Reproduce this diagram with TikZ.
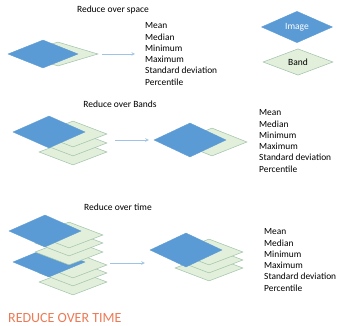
\documentclass[tikz,border=0pt]{standalone}
\usepackage{fontspec}
\setmainfont{Carlito}
\usetikzlibrary{shapes.geometric}
\definecolor{imgblue}{HTML}{5B9BD5}
\definecolor{bandgreen}{HTML}{E2EFDA}
\definecolor{bandedge}{HTML}{9EC2AA}
\definecolor{flowblue}{HTML}{9DC3E6}
\definecolor{titleorange}{HTML}{EE7A55}
\tikzset{
  image/.style={diamond, fill=imgblue, draw=imgblue, line width=0.4pt, inner sep=0pt, minimum width=72pt, minimum height=32pt},
  band/.style={diamond, fill=bandgreen, draw=bandedge, line width=0.5pt, inner sep=0pt, minimum width=68pt, minimum height=26pt},
  heading/.style={font=\fontsize{9.5}{11}\selectfont, inner sep=0pt},
  stats/.style={font=\fontsize{9.4}{11.3}\selectfont, align=left, anchor=west, inner sep=0pt},
  flow/.style={->, >=stealth, draw=flowblue, line width=0.6pt}
}
\begin{document}
\begin{tikzpicture}[x=1pt, y=-1pt]
        \useasboundingbox (0,0) rectangle (338,326);

        % Reduce over space
        \node[heading] (tspace) at (113,10) {Reduce over space};
        \node[band, minimum width=80pt, minimum height=24pt] (bandS) at (58,54) {};
        \node[image, minimum width=70pt, minimum height=28pt] (imgS) at (43,54) {};
        \node[stats] (statsS) at (145,54) {Mean\\Median\\Minimum\\Maximum\\Standard deviation\\Percentile};
        \draw[flow, shorten <=4pt, shorten >=10pt] (bandS.east) -- (statsS.west);

        % Legend
        \node[image, minimum width=71pt, minimum height=28pt, text=white, font=\fontsize{9.5}{11}\selectfont] (legimg) at (297,27) {Image};
        \node[band, minimum width=70pt, font=\fontsize{9.5}{11}\selectfont] (legband) at (298,62) {Band};

        % Reduce over Bands
        \node[heading] (tbands) at (120,104) {Reduce over Bands};
        \node[band] (bandB3) at (73,152) {};
        \node[band] (bandB2) at (73,143) {};
        \node[band] (bandB1) at (73,134) {};
        \node[image] (imgB) at (49,132) {};
        \node[band, minimum width=70pt, minimum height=28pt] (resbandB) at (212,142) {};
        \node[image, minimum height=34pt] (resimgB) at (190,140) {};
        \node[stats] (statsB) at (259,141) {Mean\\Median\\Minimum\\Maximum\\Standard deviation\\Percentile};
        \draw[flow] ([xshift=8pt]bandB2.east |- resimgB.west) -- ([xshift=-5pt]resimgB.west);

        % Reduce over time
        \node[heading] (ttime) at (118,207) {Reduce over time};
        \node[band] (bandT6) at (73,282) {};
        \node[band] (bandT5) at (73,273) {};
        \node[band] (bandT4) at (73,265) {};
        \node[image, minimum height=30pt] (imgT2) at (49,262) {};
        \node[band] (bandT3) at (69,252) {};
        \node[band] (bandT2) at (69,243) {};
        \node[band] (bandT1) at (69,235) {};
        \node[image] (imgT1) at (45,231) {};
        \node[band] (resbandT3) at (209,268) {};
        \node[band] (resbandT2) at (209,260) {};
        \node[band] (resbandT1) at (209,252) {};
        \node[image, minimum height=34pt] (resimgT) at (186,250) {};
        \node[stats] (statsT) at (264,260) {Mean\\Median\\Minimum\\Maximum\\Standard deviation\\Percentile};
        \draw[flow] ([xshift=3pt]bandT4.east |- 0,263) -- ([xshift=-5pt]resimgT.west |- 0,263);

        % Caption
        \node[anchor=west, inner sep=0pt, text=titleorange, font=\fontsize{14}{16}\selectfont] (caption) at (8,318) {REDUCE OVER TIME};
\end{tikzpicture}
\end{document}
